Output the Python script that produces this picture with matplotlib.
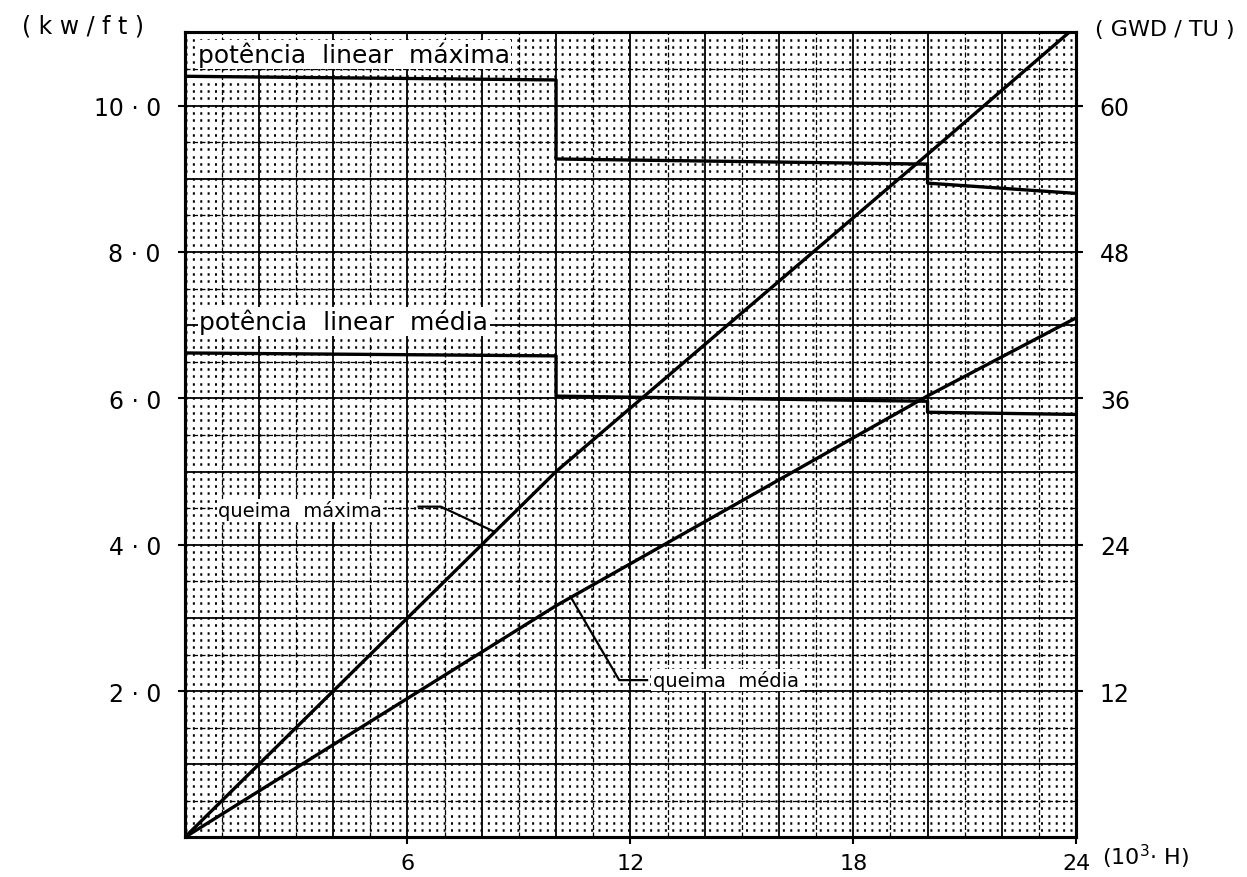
import matplotlib
matplotlib.use("Agg")
import matplotlib.pyplot as plt
import numpy as np

# ---------------- dados ----------------
# potencia linear (kw/ft) em funcao do tempo (10^3 h), em degraus
horas_pot = [0, 10, 10, 20, 20, 24]
pot_max = [10.4, 10.35, 9.27, 9.2, 8.94, 8.8]
pot_med = [6.62, 6.58, 6.03, 5.96, 5.81, 5.78]

# queima (GWD/TU)
horas_q = [0, 10, 20, 24]
queima_max = [0, 30, 56, 66.5]
queima_med = [0, 19, 36.2, 42.6]

yticks_esq = [2, 4, 6, 8, 10]
yticks_dir = [12, 24, 36, 48, 60]
xticks = [6, 12, 18, 24]

# ---------------- figura ----------------
fig = plt.figure(figsize=(12.47, 8.78), dpi=100)
ax = fig.add_axes([0.148, 0.045, 0.715, 0.917])
ax2 = ax.twinx()

ax.set_xlim(0, 24)
ax.set_ylim(0, 11)
ax2.set_ylim(0, 66)

# papel milimetrado
for v in np.arange(2, 24, 2):
    ax.axvline(v, color="black", lw=1.3, zorder=1)
for v in np.arange(1, 24, 2):
    ax.axvline(v, color="black", lw=0.9, ls=(0, (4, 2)), zorder=1)
for v in np.arange(1, 11, 1):
    ax.axhline(v, color="black", lw=1.3, zorder=1)
for v in np.arange(0.5, 11, 1):
    ax.axhline(v, color="black", lw=0.9, ls=(0, (4, 2)), zorder=1)
for v in np.arange(0.1, 11, 0.1):
    ax.axhline(v, color="black", lw=1.8, ls=(0, (0.8, 2.15)), zorder=0.5)

# curvas
ax.plot(horas_pot, pot_max, color="black", lw=2.4, zorder=3)
ax.plot(horas_pot, pot_med, color="black", lw=2.4, zorder=3)
ax2.plot(horas_q, queima_max, color="black", lw=2.4, zorder=3)
ax2.plot(horas_q, queima_med, color="black", lw=2.4, zorder=3)

# rotulos das curvas
caixa = dict(facecolor="white", edgecolor="none", pad=1)
ax.text(0.35, 10.7, "potência  linear  máxima", fontsize=18, va="center", ha="left",
        bbox=caixa, zorder=4)
ax.text(0.4, 7.05, "potência  linear  média", fontsize=18, va="center", ha="left",
        bbox=caixa, zorder=4)
ax.text(0.9, 4.47, "queima  máxima", fontsize=14, va="center", ha="left",
        bbox=caixa, zorder=4)
ax.text(12.6, 2.15, "queima  média", fontsize=14, va="center", ha="left",
        bbox=caixa, zorder=4)

x1 = 8.35
y1 = np.interp(x1, horas_q, queima_max) / 6
ax.plot([6.3, 6.9, x1], [4.52, 4.52, y1], color="black", lw=1.6, zorder=4)
x2 = 10.4
y2 = np.interp(x2, horas_q, queima_med) / 6
ax.plot([x2, 11.7, 12.45], [y2, 2.15, 2.15], color="black", lw=1.6, zorder=4)

# eixos
for a in (ax, ax2):
    for s in a.spines.values():
        s.set_linewidth(2.2)
ax.set_xticks(xticks)
ax.set_xticklabels([str(t) for t in xticks])
ax.set_yticks(yticks_esq)
ax.set_yticklabels([("%.1f" % t).replace(".", " · ") for t in yticks_esq])
ax2.set_yticks(yticks_dir)
ax2.set_yticklabels([str(t) for t in yticks_dir])
ax.tick_params(axis="y", which="major", labelsize=17, length=5, width=1.5, pad=12)
ax.tick_params(axis="x", which="major", labelsize=16, length=5, width=1.5, pad=6)
ax2.tick_params(axis="y", labelsize=17, length=5, width=1.5, pad=12)

fig.text(0.018, 0.97, "( k w / f t )", fontsize=17, ha="left", va="center")
fig.text(0.878, 0.966, "( GWD / TU )", fontsize=16, ha="left", va="center")
fig.text(0.884, 0.008, "(10$^3$· H)", fontsize=16, ha="left", va="bottom")

fig.savefig("out.png", dpi=100)
